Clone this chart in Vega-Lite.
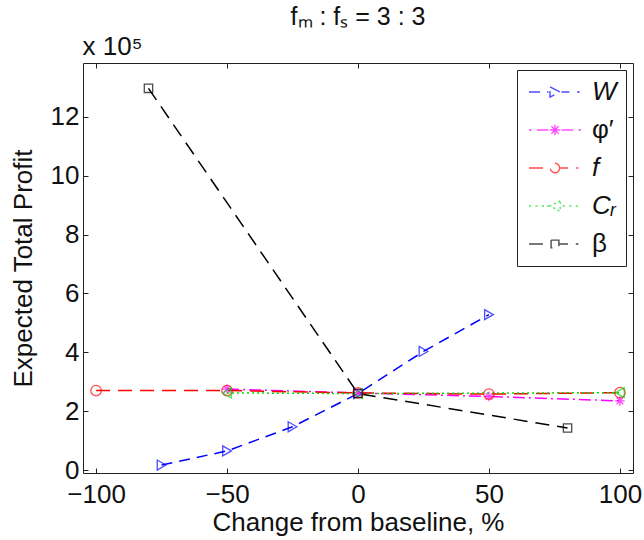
{
  "$schema": "https://vega.github.io/schema/vega-lite/v6.json",
  "width": 550,
  "height": 410,
  "autosize": {"type": "none"},
  "padding": {"left": 83, "top": 63, "right": 11, "bottom": 67},
  "background": "white",
  "config": {
    "font": "Liberation Sans",
    "view": {"stroke": "#222", "strokeWidth": 1},
    "axis": {"grid": false, "domain": false, "tickColor": "#222", "labelColor": "#111", "titleColor": "#111", "labelFont": "Liberation Sans", "titleFont": "Liberation Sans", "titleFontWeight": "normal"}
  },
  "title": {"text": "fₘ : fₛ =  3 : 3", "fontSize": 25, "fontWeight": "normal", "font": "Liberation Sans", "color": "#111", "anchor": "middle", "offset": 3},
  "data": {"values": [
    {"series": "W", "x": -75, "y": 0.17},
    {"series": "W", "x": -50, "y": 0.65},
    {"series": "W", "x": -25, "y": 1.47},
    {"series": "W", "x": 0, "y": 2.6},
    {"series": "W", "x": 25, "y": 4.03},
    {"series": "W", "x": 50, "y": 5.28},
    {"series": "φ′", "x": -50, "y": 2.75},
    {"series": "φ′", "x": 0, "y": 2.62},
    {"series": "φ′", "x": 50, "y": 2.5},
    {"series": "φ′", "x": 100, "y": 2.35},
    {"series": "f", "x": -100, "y": 2.7},
    {"series": "f", "x": -50, "y": 2.7},
    {"series": "f", "x": 0, "y": 2.62},
    {"series": "f", "x": 50, "y": 2.58},
    {"series": "f", "x": 100, "y": 2.63},
    {"series": "Cᵣ", "x": -50, "y": 2.62},
    {"series": "Cᵣ", "x": 0, "y": 2.6},
    {"series": "Cᵣ", "x": 100, "y": 2.63},
    {"series": "β", "x": -80, "y": 12.97},
    {"series": "β", "x": 0, "y": 2.6},
    {"series": "β", "x": 80, "y": 1.43}
  ]},
  "resolve": {"axis": {"x": "independent", "y": "independent"}},
  "layer": [
    {
      "mark": {"type": "line", "strokeWidth": 1.5},
      "encoding": {
        "x": {"field": "x", "type": "quantitative", "scale": {"domain": [-105, 105], "nice": false, "zero": false},
              "axis": {"orient": "bottom", "values": [-100, -50, 0, 50, 100], "tickSize": -5, "labelPadding": 13, "labelFontSize": 26, "title": "Change from baseline, %", "titleFontSize": 26, "titlePadding": 2}},
        "y": {"field": "y", "type": "quantitative", "scale": {"domain": [-0.1, 13.83], "nice": false, "zero": false},
              "axis": {"orient": "left", "values": [0, 2, 4, 6, 8, 10, 12], "tickSize": -5, "labelPadding": 9, "labelFontSize": 26, "title": "Expected Total Profit", "titleFontSize": 26, "titlePadding": 14}},
        "color": {"field": "series", "type": "nominal",
                  "scale": {"domain": ["W", "φ′", "f", "Cᵣ", "β"], "range": ["#0000ff", "#ff00ff", "#ff0000", "#00dd00", "#000000"]}},
        "strokeDash": {"field": "series", "type": "nominal",
                  "scale": {"domain": ["W", "φ′", "f", "Cᵣ", "β"], "range": [[11, 7], [12, 4, 2, 4], [14, 8], [2, 3], [14, 8]]}, "legend": null},
        "order": {"field": "x", "type": "quantitative"}
      }
    },
    {
      "transform": [{"filter": "false"}],
      "mark": {"type": "point", "filled": false, "strokeWidth": 1.4},
      "encoding": {
        "x": {"field": "x", "type": "quantitative", "scale": {"domain": [-105, 105], "nice": false, "zero": false},
              "axis": {"orient": "top", "values": [-100, -50, 0, 50, 100], "tickSize": -5, "labels": false, "title": "x 10⁵", "titleFontSize": 26, "titleAnchor": "start", "titleAlign": "left", "titleBaseline": "alphabetic", "titleX": -1, "titleY": -9}},
        "y": {"field": "y", "type": "quantitative", "scale": {"domain": [-0.1, 13.83], "nice": false, "zero": false},
              "axis": {"orient": "right", "values": [0, 2, 4, 6, 8, 10, 12], "tickSize": -5, "labels": false, "title": null}},
        "color": {"field": "series", "type": "nominal",
                  "scale": {"domain": ["W", "φ′", "f", "Cᵣ", "β"], "range": ["#0000ff", "#ff00ff", "#ff0000", "#00dd00", "#000000"]},
                  "legend": {"orient": "top-right", "offset": 7, "title": null, "strokeColor": "#222", "fillColor": "white", "padding": 9, "cornerRadius": 0,
                             "symbolSize": 400, "symbolStrokeWidth": 1.4, "labelOffset": 40, "labelFontSize": 26, "labelFont": "Liberation Sans", "labelColor": "#111",
                             "rowPadding": 12, "labelFontStyle": {"expr": "datum.label == 'W' || datum.label == 'f' || datum.label == 'Cᵣ' ? 'italic' : 'normal'"}}},
        "shape": {"field": "series", "type": "nominal",
                  "scale": {"domain": ["W", "φ′", "f", "Cᵣ", "β"], "range": [
                    "M-1,0H0.95M1.1,-0.52L2.12,0L1.1,0.52L1.1,-0.52M2.25,0H3.03M3.81,0H4.07",
                    "M-1,0H-0.74M-0.22,0H0.95M1.08,0H2.12M1.6,-0.52V0.52M1.236,-0.364L1.964,0.364M1.236,0.364L1.964,-0.364M2.25,0H3.42M3.94,0H4.2",
                    "M-1,0H1.13M2.07,0L2.034,0.18L1.932,0.332L1.78,0.434L1.6,0.47L1.42,0.434L1.268,0.332L1.166,0.18L1.13,0L1.166,-0.18L1.268,-0.332L1.42,-0.434L1.6,-0.47L1.78,-0.434L1.932,-0.332L2.034,-0.18L2.07,0M2.07,0H2.9M3.68,0H3.94",
                    "M-1,0H-0.74M-0.35,0H-0.09M0.3,0H0.56M0.82,0H1.03M2.12,-0.52L1.1,0L2.12,0.52L2.12,-0.52M2.38,0H2.64M3.03,0H3.29M3.68,0H3.94",
                    "M-1,0H1.18M1.21,-0.39H1.99V0.39H1.21V-0.39M2.02,0H2.9M3.68,0H3.94"
                  ]}}
      }
    },
    {
      "transform": [{"filter": "datum.series == 'W'"}],
      "mark": {"type": "point", "filled": false, "shape": "triangle-right", "size": 100, "strokeWidth": 1.3, "color": "#0000ff"},
      "encoding": {
        "x": {"field": "x", "type": "quantitative", "axis": null},
        "y": {"field": "y", "type": "quantitative", "axis": null}
      }
    },
    {
      "transform": [{"filter": "datum.series == 'φ′'"}],
      "mark": {"type": "point", "filled": false, "shape": "M-1,0H1M0,-1V1M-0.7,-0.7L0.7,0.7M-0.7,0.7L0.7,-0.7", "size": 90, "strokeWidth": 1.3, "color": "#ff00ff"},
      "encoding": {
        "x": {"field": "x", "type": "quantitative", "axis": null},
        "y": {"field": "y", "type": "quantitative", "axis": null}
      }
    },
    {
      "transform": [{"filter": "datum.series == 'f'"}],
      "mark": {"type": "point", "filled": false, "shape": "circle", "size": 110, "strokeWidth": 1.3, "color": "#ff0000"},
      "encoding": {
        "x": {"field": "x", "type": "quantitative", "axis": null},
        "y": {"field": "y", "type": "quantitative", "axis": null}
      }
    },
    {
      "transform": [{"filter": "datum.series == 'Cᵣ'"}],
      "mark": {"type": "point", "filled": false, "shape": "triangle-left", "size": 100, "strokeWidth": 1.3, "color": "#00dd00"},
      "encoding": {
        "x": {"field": "x", "type": "quantitative", "axis": null},
        "y": {"field": "y", "type": "quantitative", "axis": null}
      }
    },
    {
      "transform": [{"filter": "datum.series == 'β'"}],
      "mark": {"type": "point", "filled": false, "shape": "square", "size": 70, "strokeWidth": 1.3, "color": "#000000"},
      "encoding": {
        "x": {"field": "x", "type": "quantitative", "axis": null},
        "y": {"field": "y", "type": "quantitative", "axis": null}
      }
    }
  ]
}
